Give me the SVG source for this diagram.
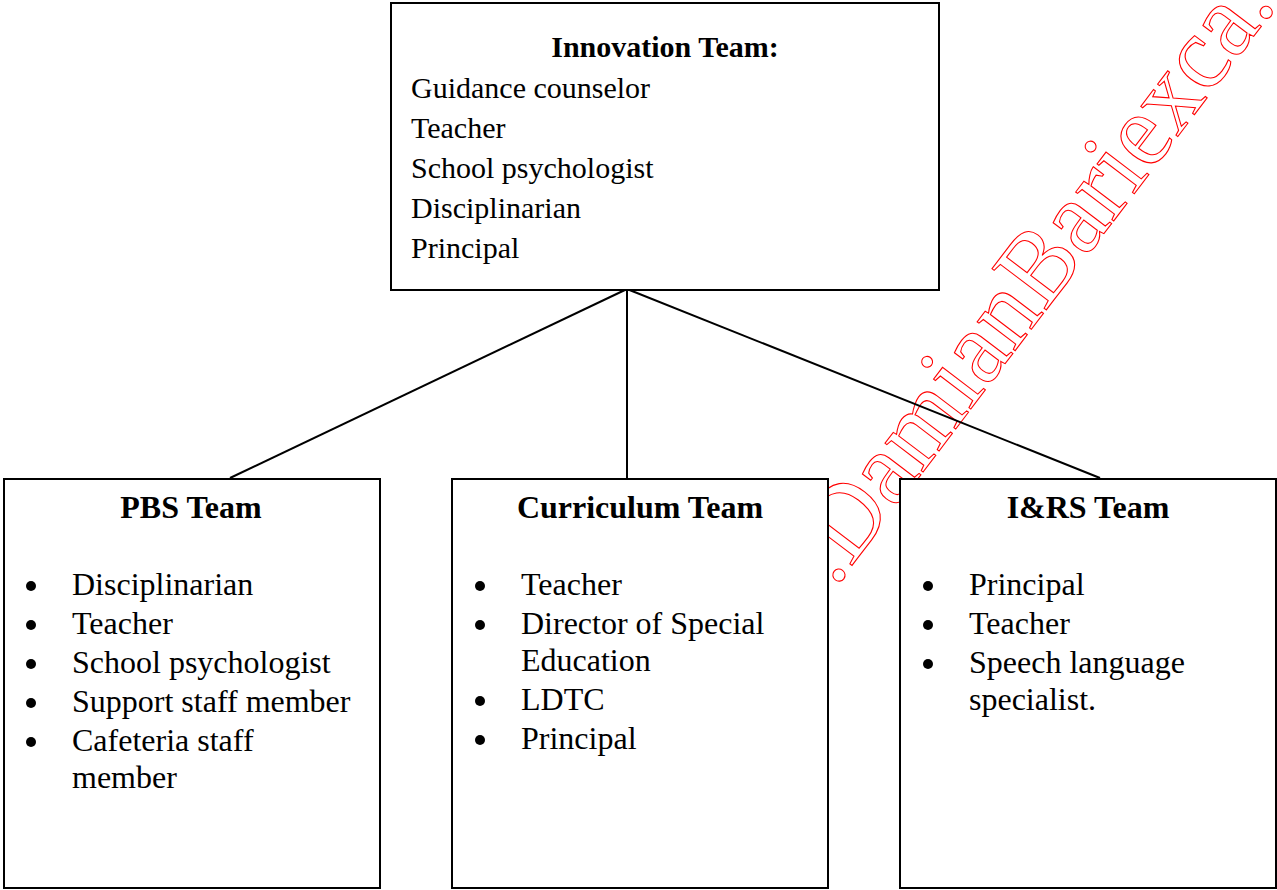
<svg xmlns="http://www.w3.org/2000/svg" width="1277" height="890" viewBox="0 0 1277 890">
  <style>
    .box { fill: #fff; stroke: #000; stroke-width: 2; }
    .link { stroke: #000; stroke-width: 2; fill: none; }
    .t { font-family: "Liberation Serif", "Times New Roman", serif; fill: #000; }
    .top { font-size: 30px; }
    .item { font-size: 32px; }
    .head { font-size: 32px; font-weight: bold; text-anchor: middle; }
    .dot { fill: #000; }
    .mark { font-family: "Liberation Serif", "Times New Roman", serif; font-size: 104px; fill: none; stroke: #ff0000; stroke-width: 1.1; }
  </style>
  <rect width="1277" height="890" fill="#fff"/>

  <!-- outlined red site mark along the diagonal, sitting behind the boxes -->
  <text class="mark" x="0" y="0" transform="translate(835 588) rotate(-52.8)" textLength="732" lengthAdjust="spacingAndGlyphs">.DamianBariexca.</text>

  <g id="connectors">
    <line class="link" x1="627" y1="289" x2="230" y2="478"/>
    <line class="link" x1="627" y1="289" x2="627" y2="478"/>
    <line class="link" x1="627" y1="289" x2="1100" y2="478"/>
  </g>

  <g id="innovation-team">
    <rect class="box" x="391" y="3" width="548" height="287"/>
    <text class="t top" x="665" y="57" text-anchor="middle" font-weight="bold">Innovation Team:</text>
    <text class="t top" x="411" y="98">Guidance counselor</text>
    <text class="t top" x="411" y="138">Teacher</text>
    <text class="t top" x="411" y="178">School psychologist</text>
    <text class="t top" x="411" y="218">Disciplinarian</text>
    <text class="t top" x="411" y="258">Principal</text>
  </g>

  <g id="pbs-team">
    <rect class="box" x="4" y="479" width="376" height="409"/>
    <text class="t head" x="191" y="518">PBS Team</text>
    <circle class="dot" cx="31" cy="586" r="5"/>
    <circle class="dot" cx="31" cy="625" r="5"/>
    <circle class="dot" cx="31" cy="664" r="5"/>
    <circle class="dot" cx="31" cy="703" r="5"/>
    <circle class="dot" cx="31" cy="742" r="5"/>
    <text class="t item" x="72" y="595">Disciplinarian</text>
    <text class="t item" x="72" y="634">Teacher</text>
    <text class="t item" x="72" y="673">School psychologist</text>
    <text class="t item" x="72" y="712">Support staff member</text>
    <text class="t item" x="72" y="751">Cafeteria staff</text>
    <text class="t item" x="72" y="788">member</text>
  </g>

  <g id="curriculum-team">
    <rect class="box" x="452" y="479" width="376" height="409"/>
    <text class="t head" x="640" y="518">Curriculum Team</text>
    <circle class="dot" cx="480" cy="586" r="5"/>
    <circle class="dot" cx="480" cy="625" r="5"/>
    <circle class="dot" cx="480" cy="701" r="5"/>
    <circle class="dot" cx="480" cy="740" r="5"/>
    <text class="t item" x="521" y="595">Teacher</text>
    <text class="t item" x="521" y="634">Director of Special</text>
    <text class="t item" x="521" y="671">Education</text>
    <text class="t item" x="521" y="710">LDTC</text>
    <text class="t item" x="521" y="749">Principal</text>
  </g>

  <g id="irs-team">
    <rect class="box" x="900" y="479" width="376" height="409"/>
    <text class="t head" x="1088" y="518">I&amp;RS Team</text>
    <circle class="dot" cx="928" cy="586" r="5"/>
    <circle class="dot" cx="928" cy="625" r="5"/>
    <circle class="dot" cx="928" cy="664" r="5"/>
    <text class="t item" x="969" y="595">Principal</text>
    <text class="t item" x="969" y="634">Teacher</text>
    <text class="t item" x="969" y="673">Speech language</text>
    <text class="t item" x="969" y="710">specialist.</text>
  </g>
</svg>
